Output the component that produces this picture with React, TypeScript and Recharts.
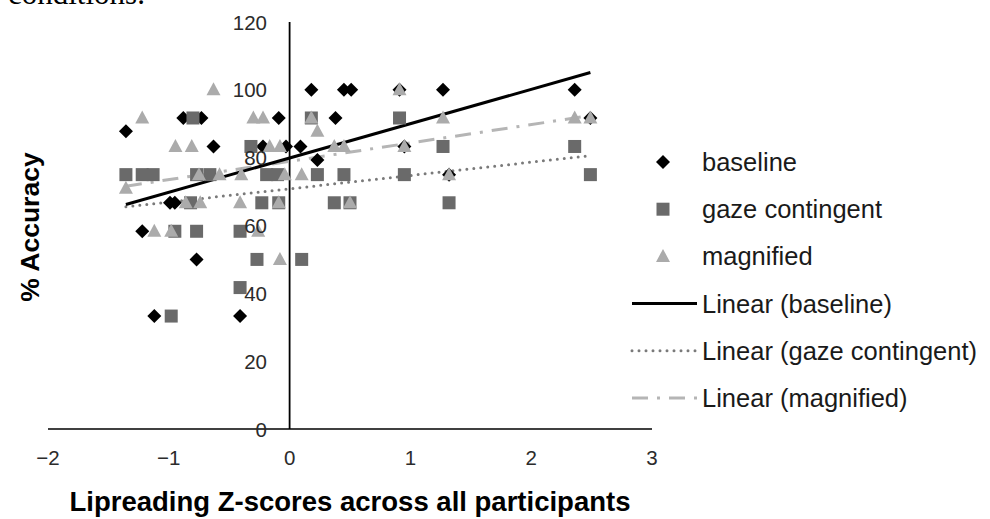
import * as React from "react"
import { ScatterChart, Scatter, XAxis, YAxis, ReferenceLine, Legend } from "recharts"

// points: [z-score, % accuracy]
const baselinePts: [number, number][] = [
  [-1.355, 87.8], [-0.88, 91.7], [-0.73, 91.7], [-0.09, 91.7], [-0.63, 83.3],
  [-0.22, 83.3], [-0.03, 83.3], [0.09, 83.3], [-0.99, 66.7], [-0.95, 66.7],
  [-1.22, 58.3], [-0.77, 50], [-1.12, 33.3], [-0.41, 33.3], [0.18, 100],
  [0.45, 100], [0.51, 100], [0.91, 100], [1.27, 100], [2.36, 100],
  [0.38, 91.7], [0.23, 79.3], [0.95, 83.3], [1.32, 75], [2.49, 91.7],
]

const gazePts: [number, number][] = [
  [-1.355, 75], [-1.22, 75], [-1.13, 75], [-0.77, 75], [-0.66, 75],
  [-0.19, 75], [-0.10, 75], [0.23, 75], [0.45, 75], [0.95, 75],
  [2.49, 75], [-0.80, 91.7], [0.18, 91.7], [0.91, 91.7], [-0.32, 83.3],
  [1.27, 83.3], [2.36, 83.3], [-0.82, 66.7], [-0.23, 66.7], [-0.09, 66.7],
  [0.37, 66.7], [0.50, 66.7], [1.32, 66.7], [-0.95, 58.3], [-0.77, 58.3],
  [-0.41, 58.3], [-0.27, 50], [0.10, 50], [-0.41, 41.7], [-0.98, 33.3],
]

const magnifiedPts: [number, number][] = [
  [-0.63, 100], [-1.22, 91.7], [-0.30, 91.7], [-0.22, 91.7], [0.18, 91.7],
  [1.27, 91.7], [2.36, 91.7], [2.49, 91.7], [0.23, 87.8], [0.91, 100],
  [-0.945, 83.3], [-0.81, 83.3], [-0.165, 83.3], [-0.08, 83.3], [0.37, 83.3],
  [0.45, 83.3], [0.95, 83.3], [-1.355, 71], [-0.75, 75], [-0.58, 75],
  [-0.40, 75], [-0.04, 75], [0.10, 75], [1.32, 75], [-0.86, 66.7],
  [-0.74, 66.7], [-0.41, 66.7], [-0.09, 66.7], [0.50, 66.7], [-1.12, 58.3],
  [-0.98, 58.3], [-0.26, 58.3], [-0.08, 50],
]

// trendline end points as drawn
const trendBaseline: [number, number][] = [[-1.355, 66.2], [2.49, 105.1]]
const trendGaze: [number, number][] = [[-1.355, 65.5], [2.49, 80.6]]
const trendMagnified: [number, number][] = [[-1.355, 71.6], [2.49, 92.4]]

const xTicks = [-2, -1, 0, 1, 2, 3]
const yTicks = [0, 20, 40, 60, 80, 100, 120]

const legendItems = [
  { name: "baseline", kind: "diamond" },
  { name: "gaze contingent", kind: "square" },
  { name: "magnified", kind: "triangle" },
  { name: "Linear (baseline)", kind: "solid" },
  { name: "Linear (gaze contingent)", kind: "dotted" },
  { name: "Linear (magnified)", kind: "dashdot" },
]

const FONT = "'Liberation Sans', Arial, sans-serif"
const BLACK = "#000"
const GAZE = "#6a6a6a"
const MAG = "#ababab"
const DOT_LINE = "#7a7a7a"
const DASH_LINE = "#b5b5b5"

const toData = (pts: [number, number][]) => pts.map(([x, y]) => ({ x, y }))

const Diamond = ({ cx, cy }: any) => (
  <polygon points={`${cx},${cy - 7} ${cx + 7},${cy} ${cx},${cy + 7} ${cx - 7},${cy}`} fill={BLACK} />
)
const Square = ({ cx, cy }: any) => (
  <rect x={cx - 6.5} y={cy - 6.5} width={13} height={13} fill={GAZE} />
)
const Triangle = ({ cx, cy }: any) => (
  <polygon points={`${cx},${cy - 7.5} ${cx + 7},${cy + 5.5} ${cx - 7},${cy + 5.5}`} fill={MAG} />
)

const fmt = (v: number) => (v < 0 ? "\u2212" + Math.abs(v) : String(v))

// x labels sit below the bottom edge, y labels hug the x = 0 line
const XTick = (p: any) => (
  <text x={p.x} y={465} textAnchor="middle" fontSize={20.5} fill="#2b2b2b" fontFamily={FONT}>
    {fmt(p.payload.value)}
  </text>
)
const YTick = (p: any) => (
  <text x={267} y={p.y + 7.5} textAnchor="end" fontSize={20.5} fill="#2b2b2b" fontFamily={FONT}>
    {p.payload.value}
  </text>
)

const lineStyle: Record<string, any> = {
  solid: { stroke: BLACK, strokeWidth: 3 },
  dotted: { stroke: DOT_LINE, strokeWidth: 3, strokeDasharray: "0 7", strokeLinecap: "round" },
  dashdot: { stroke: DASH_LINE, strokeWidth: 3, strokeDasharray: "16 9 3 9" },
}

function renderLegend() {
  return (
    <svg width={370} height={290}>
      {legendItems.map((it, i) => {
        const cy = 32 + i * 47.2
        let icon: React.ReactNode
        if (it.kind === "diamond") icon = <Diamond cx={43} cy={cy} />
        else if (it.kind === "square") icon = <Square cx={43} cy={cy} />
        else if (it.kind === "triangle") icon = <Triangle cx={43} cy={cy} />
        else icon = <line x1={12} x2={77} y1={cy} y2={cy} {...lineStyle[it.kind]} />
        return (
          <g key={it.name}>
            {icon}
            <text x={82} y={cy + 9} fontSize={25.5} fill="#1a1a1a" fontFamily={FONT}>{it.name}</text>
          </g>
        )
      })}
    </svg>
  )
}

export default function App() {
  return (
    <div style={{ position: "absolute", left: 0, top: 0, width: 990, height: 519, background: "#fff", overflow: "hidden" }}>
      <svg width={300} height={20} style={{ position: "absolute", left: 0, top: 0 }}>
        <text x={8} y={4} fontSize={31} fontFamily="'Liberation Serif', 'Times New Roman', serif" fill="#000">conditions.</text>
      </svg>
      <ScatterChart width={990} height={519} margin={{ top: 22, right: 338, bottom: 60, left: 8 }}>
        <XAxis
          type="number" dataKey="x" domain={[-2, 3]} ticks={xTicks} height={30}
          tickLine={false} axisLine={{ stroke: BLACK, strokeWidth: 1.6 }} tick={XTick} interval={0}
        />
        <YAxis
          type="number" dataKey="y" domain={[0, 120]} ticks={yTicks} width={40}
          tickLine={false} axisLine={false} tick={YTick} interval={0}
        />
        <ReferenceLine x={0} stroke={BLACK} strokeWidth={1.8} />
        <Scatter name="baseline" data={toData(baselinePts)} shape={Diamond} isAnimationActive={false} />
        <Scatter name="gaze contingent" data={toData(gazePts)} shape={Square} isAnimationActive={false} />
        <Scatter name="magnified" data={toData(magnifiedPts)} shape={Triangle} isAnimationActive={false} />
        <ReferenceLine segment={trendGaze.map(([x, y]) => ({ x, y }))} {...lineStyle.dotted} />
        <ReferenceLine segment={trendMagnified.map(([x, y]) => ({ x, y }))} {...lineStyle.dashdot} />
        <ReferenceLine segment={trendBaseline.map(([x, y]) => ({ x, y }))} {...lineStyle.solid} />
        <Legend
          layout="vertical" align="center" verticalAlign="middle" content={renderLegend}
          wrapperStyle={{ position: "absolute", left: 620, top: 130, width: 370, height: 290 }}
        />
      </ScatterChart>
      <svg width={990} height={519} style={{ position: "absolute", left: 0, top: 0, pointerEvents: "none" }}>
        <text x={350} y={511} textAnchor="middle" fontSize={27.5} fontWeight="bold" fontFamily={FONT} fill="#000">
          Lipreading Z-scores across all participants
        </text>
        <text transform="translate(39,227) rotate(-90)" textAnchor="middle" fontSize={26.5} fontWeight="bold" fontFamily={FONT} fill="#000">
          % Accuracy
        </text>
      </svg>
    </div>
  )
}
